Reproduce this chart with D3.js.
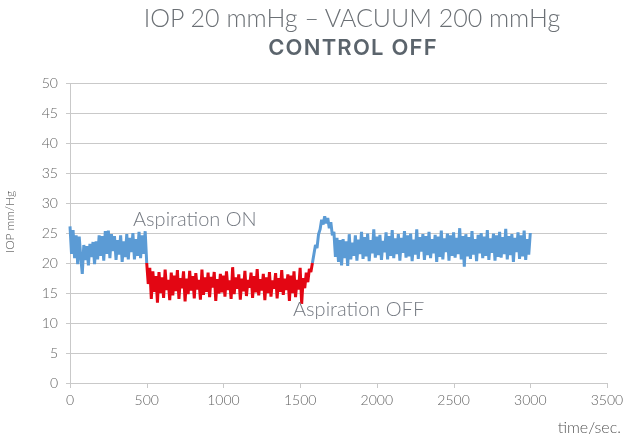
<!DOCTYPE html>
<html>
<head>
<meta charset="utf-8">
<script src="https://cdn.jsdelivr.net/npm/d3@7"></script>
<style>
  body { margin: 0; background: #fff; }
  svg { display: block; }
  text { font-family: Lato, "Open Sans", sans-serif; }
  .labels { opacity: 0.99; }
</style>
</head>
<body>
<div id="chart"></div>
<script>
// time step between samples (sec.)
var STEP = 10;

// before aspiration, t = 0..500
var blueStart = 0;
var blueBefore = [26.1, 21.5, 25.5, 20.8, 24.6, 19.8, 24.4, 21, 18.2, 23,
    20.5, 22.8, 19.6, 23.2, 21, 23.5, 19.8, 23.6, 20.6, 24.6,
    21.2, 24.5, 20.4, 25.3, 21.5, 25.4, 20.8, 24.8, 22, 24.5,
    20.5, 23.8, 21.4, 24.6, 20.2, 23.6, 21, 24.8, 20.6, 24.2,
    21.8, 25, 20.6, 24, 21.2, 25.2, 20.8, 24.6, 21.5, 25.3, 20];

// aspiration on, t = 500..1580
var redStart = 500;
var redOn = [20, 16.5, 19.2, 14, 18.6, 15.2, 17.8, 13.4, 18.5, 15,
    17.6, 14.2, 18.9, 15.5, 17.2, 13.8, 18.4, 14.6, 17.9, 15.3,
    18.8, 14, 17.5, 15.8, 18.6, 13.6, 17.4, 14.8, 18.7, 15.4,
    17.8, 14.1, 18.3, 15.6, 17.2, 13.9, 18.9, 14.7, 17.6, 15.2,
    18.4, 14.3, 17.7, 15.9, 18.5, 13.7, 17.3, 14.9, 18.2, 15.1,
    17.9, 14.4, 18.6, 15.5, 17.1, 14, 19.3, 14.8, 17.6, 15.7,
    18.1, 13.9, 17.4, 15.3, 18.7, 14.5, 17.2, 15.9, 18.4, 14.2,
    17.8, 15.1, 19, 14.6, 17.3, 15.4, 18.2, 13.8, 17.6, 15,
    18.5, 14.4, 17.1, 15.7, 18.3, 14.1, 17.5, 15.2, 18.8, 14.7,
    17.4, 15.5, 18.1, 13.7, 17.9, 15, 18.6, 14.3, 17.2, 15.6,
    19.2, 13.2, 17.5, 15.8, 18.4, 16.8, 19, 18.5, 20];

// after aspiration, t = 1580..3000
var blueStart2 = 1580;
var blueAfter = [20, 21.5, 23, 22.5, 24.8, 25.6, 27.2, 26.4, 27.8, 26.6,
    27.5, 25.8, 26.8, 24.6, 25.2, 21, 24.2, 20.2, 23.8, 19.6,
    24, 20.8, 23.6, 19.5, 24.8, 20.6, 23.4, 21.2, 24.6, 20.4,
    23.9, 21.5, 25.2, 20.7, 24.3, 21.1, 24.9, 20.3, 23.8, 21.6,
    25.6, 20.9, 24.4, 21.3, 24.7, 20.5, 23.7, 21.8, 25.1, 20.6,
    24.5, 21.2, 25.5, 20.8, 24.1, 21.5, 24.8, 20.4, 24.2, 21.7,
    25.3, 20.9, 24.6, 21.1, 24.9, 20.3, 23.9, 21.4, 25.6, 20.7,
    24.3, 21.9, 24.8, 20.5, 24.5, 21.3, 25.2, 20.8, 24, 21.6,
    24.7, 20.2, 24.4, 21, 25.4, 20.6, 24.1, 21.8, 24.9, 20.4,
    24.6, 21.2, 25.1, 20.9, 24.2, 21.5, 25.8, 20.6, 24.5, 19.4,
    24.8, 21.1, 24.3, 20.7, 25.3, 21.4, 24, 20.3, 24.7, 21.6,
    25, 20.8, 24.4, 21.2, 25.5, 20.5, 24.1, 21.7, 24.9, 20.4,
    24.6, 21, 25.2, 20.9, 24.3, 21.5, 25.7, 20.6, 24.5, 21.3,
    24.8, 20.2, 24.2, 21.8, 25.1, 20.7, 24.6, 21.1, 25.4, 20.5,
    24, 21.4, 25];

var xTicks = [0, 500, 1000, 1500, 2000, 2500, 3000, 3500];
var yTicks = [0, 5, 10, 15, 20, 25, 30, 35, 40, 45, 50];

var width = 627, height = 437;
var gridColor = "#c9c9c9";
var labelColor = "#5f5f5f";

var svg = d3.select("#chart").append("svg")
    .attr("width", width)
    .attr("height", height);

var x = d3.scaleLinear().domain([0, 3500]).range([70, 607]);
var y = d3.scaleLinear().domain([0, 50]).range([383, 83]);

// horizontal gridlines
svg.selectAll("line.grid")
    .data(yTicks)
    .enter()
    .append("line")
    .attr("class", "grid")
    .attr("x1", 66)
    .attr("x2", 607)
    .attr("y1", function(d) { return Math.round(y(d)) + 0.5; })
    .attr("y2", function(d) { return Math.round(y(d)) + 0.5; })
    .style("stroke", gridColor)
    .style("stroke-width", 1);

// y axis line
svg.append("line")
    .attr("x1", 70.5).attr("x2", 70.5)
    .attr("y1", y(50)).attr("y2", y(0))
    .style("stroke", gridColor);

// x tick marks
svg.selectAll("line.xtick")
    .data(xTicks)
    .enter()
    .append("line")
    .attr("class", "xtick")
    .attr("x1", function(d) { return Math.round(x(d)) + 0.5; })
    .attr("x2", function(d) { return Math.round(x(d)) + 0.5; })
    .attr("y1", y(0))
    .attr("y2", y(0) + 5)
    .style("stroke", gridColor);

// series
var line = d3.line()
    .x(function(d) { return x(d.t); })
    .y(function(d) { return y(d.v); });

function toPoints(start, values) {
    return values.map(function(v, i) { return { t: start + i * STEP, v: v }; });
}

var series = [
    { pts: toPoints(blueStart, blueBefore), color: "#5b9bd5" },
    { pts: toPoints(blueStart2, blueAfter), color: "#5b9bd5" },
    { pts: toPoints(redStart, redOn), color: "#e30613" }
];

svg.selectAll("path.series")
    .data(series)
    .enter()
    .append("path")
    .attr("class", "series")
    .attr("d", function(d) { return line(d.pts); })
    .style("fill", "none")
    .style("stroke", function(d) { return d.color; })
    .style("stroke-width", 3)
    .style("stroke-linejoin", "bevel");

// all text in one group
var labels = svg.append("g").attr("class", "labels");

// y tick labels
labels.selectAll("text.ylab")
    .data(yTicks)
    .enter()
    .append("text")
    .attr("class", "ylab")
    .text(function(d) { return d; })
    .attr("x", 58)
    .attr("y", function(d) { return y(d) + 5; })
    .attr("text-anchor", "end")
    .style("font-size", "14px")
    .style("font-weight", 300)
    .style("fill", labelColor);

// x tick labels
labels.selectAll("text.xlab")
    .data(xTicks)
    .enter()
    .append("text")
    .attr("class", "xlab")
    .text(function(d) { return d; })
    .attr("x", function(d) { return x(d); })
    .attr("y", 405)
    .attr("text-anchor", "middle")
    .style("font-size", "14px")
    .style("font-weight", 300)
    .style("fill", labelColor);

// titles
labels.append("text")
    .text("IOP 20 mmHg \u2013 VACUUM 200 mmHg")
    .attr("x", 352).attr("y", 27)
    .attr("text-anchor", "middle")
    .style("font-size", "25px")
    .style("font-weight", 300)
    .style("fill", "#6a6f74");

labels.append("text")
    .text("CONTROL OFF")
    .attr("x", 353).attr("y", 55)
    .attr("text-anchor", "middle")
    .style("font-family", "Inter, Lato, sans-serif")
    .style("font-size", "22px")
    .style("font-weight", 600)
    .style("letter-spacing", "1.2px")
    .style("fill", "#5a636b");

// annotations
labels.append("text")
    .text("Aspiration ON")
    .attr("x", 133).attr("y", 226)
    .style("font-size", "20px")
    .style("font-weight", 300)
    .style("fill", "#737880");

labels.append("text")
    .text("Aspiration OFF")
    .attr("x", 293).attr("y", 316)
    .style("font-size", "20px")
    .style("font-weight", 300)
    .style("fill", "#737880");

// axis titles
labels.append("text")
    .text("IOP mm/Hg")
    .attr("transform", "translate(14,222) rotate(-90)")
    .attr("text-anchor", "middle")
    .style("font-size", "12px")
    .style("font-weight", 300)
    .style("fill", "#555");

labels.append("text")
    .text("time/sec.")
    .attr("x", 621).attr("y", 433)
    .attr("text-anchor", "end")
    .style("font-size", "16px")
    .style("font-weight", 300)
    .style("fill", "#555");
</script>
</body>
</html>
